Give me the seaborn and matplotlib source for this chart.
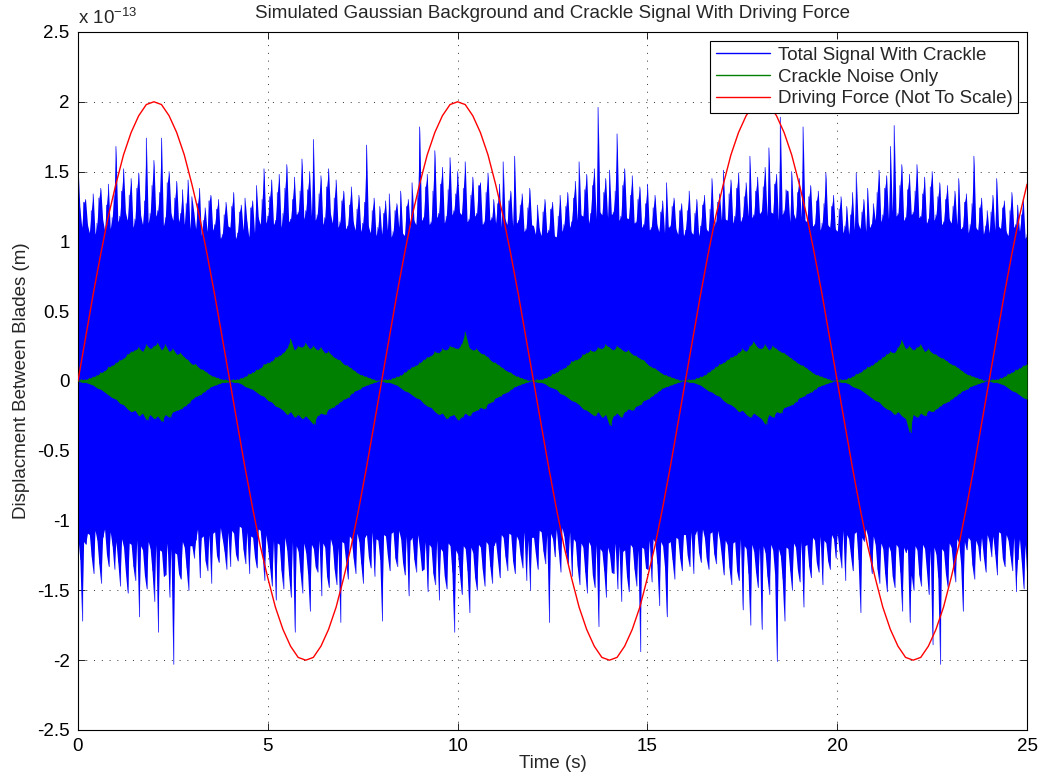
import numpy as np
import matplotlib
matplotlib.use("Agg")
import matplotlib.pyplot as plt
import seaborn as sns

# values are in units of 1e-13 m
# total signal: peak per 0.05 s slot, crackle: per 0.1 s slot, drive: per 0.2 s
T_START, T_END = 0.0, 25.0
BLUE_N, GREEN_N, DRIVE_N = 501, 251, 126

BLUE_UPPER = [
    1.55, 1.24, 1.10, 1.28, 1.30, 1.12, 1.06, 1.22, 1.34, 1.05, 1.13, 1.31, 1.38, 1.16, 1.08, 1.26, 1.41, 1.09, 1.17, 1.33,
    1.68, 1.14, 1.18, 1.36, 1.52, 1.21, 1.15, 1.33, 1.45, 1.10, 1.16, 1.38, 1.49, 1.19, 1.12, 1.29, 1.74, 1.13, 1.20, 1.40,
    1.58, 1.18, 1.22, 1.35, 1.74, 1.11, 1.17, 1.42, 1.50, 1.20, 1.15, 1.31, 1.43, 1.14, 1.20, 1.37, 1.12, 1.27, 1.44, 1.09,
    1.32, 1.21, 1.09, 1.27, 1.38, 1.04, 1.15, 1.24, 1.07, 1.29, 1.33, 1.08, 1.12, 1.23, 1.30, 1.02, 1.05, 1.19, 1.28, 1.11,
    1.10, 1.25, 1.35, 1.02, 1.06, 1.21, 1.26, 1.08, 1.31, 1.14, 1.03, 1.24, 1.29, 1.06, 1.40, 1.17, 1.12, 1.30, 1.52, 1.13,
    1.18, 1.32, 1.44, 1.12, 1.15, 1.35, 1.48, 1.10, 1.20, 1.38, 1.55, 1.14, 1.16, 1.30, 1.46, 1.19, 1.21, 1.36, 1.59, 1.16,
    1.22, 1.37, 1.50, 1.18, 1.73, 1.15, 1.19, 1.34, 1.47, 1.12, 1.17, 1.39, 1.52, 1.20, 1.13, 1.31, 1.44, 1.10, 1.14, 1.29,
    1.36, 1.09, 1.11, 1.26, 1.39, 1.14, 1.08, 1.23, 1.33, 1.07, 1.13, 1.28, 1.69, 1.11, 1.06, 1.22, 1.31, 1.04, 1.10, 1.25,
    1.05, 1.20, 1.29, 1.08, 1.34, 1.03, 1.07, 1.22, 1.27, 1.10, 1.36, 1.06, 1.04, 1.25, 1.30, 1.09, 1.42, 1.15, 1.12, 1.33,
    1.82, 1.15, 1.17, 1.39, 1.48, 1.12, 1.14, 1.36, 1.65, 1.17, 1.20, 1.41, 1.53, 1.13, 1.18, 1.37, 1.60, 1.19, 1.22, 1.34,
    1.50, 1.21, 1.19, 1.38, 1.57, 1.14, 1.16, 1.33, 1.46, 1.18, 1.20, 1.40, 1.42, 1.12, 1.14, 1.35, 1.49, 1.15, 1.17, 1.30,
    1.13, 1.27, 1.41, 1.10, 1.57, 1.16, 1.12, 1.29, 1.36, 1.11, 1.61, 1.13, 1.15, 1.26, 1.34, 1.07, 1.09, 1.24, 1.38, 1.12,
    1.11, 1.05, 1.26, 1.09, 1.04, 1.21, 1.30, 1.06, 1.08, 1.23, 1.28, 1.04, 1.03, 1.18, 1.33, 1.07, 1.12, 1.25, 1.35, 1.10,
    1.14, 1.31, 1.43, 1.15, 1.57, 1.19, 1.18, 1.37, 1.48, 1.13, 1.20, 1.40, 1.52, 1.16, 1.96, 1.21, 1.19, 1.35, 1.45, 1.17,
    1.51, 1.19, 1.21, 1.36, 1.77, 1.15, 1.18, 1.40, 1.52, 1.17, 1.16, 1.33, 1.47, 1.13, 1.14, 1.30, 1.39, 1.10, 1.12, 1.27,
    1.41, 1.08, 1.10, 1.24, 1.33, 1.12, 1.07, 1.21, 1.29, 1.06, 1.42, 1.10, 1.11, 1.25, 1.31, 1.09, 1.05, 1.22, 1.27, 1.04,
    1.08, 1.22, 1.36, 1.07, 1.05, 1.20, 1.30, 1.04, 1.11, 1.26, 1.33, 1.09, 1.07, 1.23, 1.45, 1.11, 1.14, 1.28, 1.34, 1.15,
    1.51, 1.16, 1.15, 1.34, 1.44, 1.13, 1.18, 1.38, 1.49, 1.14, 1.17, 1.32, 1.42, 1.18, 1.61, 1.17, 1.19, 1.36, 1.46, 1.20,
    1.21, 1.39, 1.53, 1.18, 1.67, 1.21, 1.20, 1.41, 1.48, 1.15, 1.89, 1.19, 1.22, 1.37, 1.36, 1.14, 1.50, 1.20, 1.16, 1.35,
    1.45, 1.17, 1.82, 1.15, 1.14, 1.32, 1.40, 1.11, 1.12, 1.29, 1.36, 1.08, 1.13, 1.27, 1.49, 1.12, 1.10, 1.25, 1.33, 1.09,
    1.07, 1.23, 1.32, 1.06, 1.11, 1.25, 1.05, 1.19, 1.35, 1.08, 1.49, 1.13, 1.09, 1.21, 1.30, 1.07, 1.38, 1.10, 1.12, 1.27,
    1.15, 1.35, 1.51, 1.14, 1.19, 1.38, 1.47, 1.16, 1.68, 1.21, 1.83, 1.18, 1.20, 1.40, 1.55, 1.15, 1.17, 1.37, 1.48, 1.19,
    1.21, 1.36, 1.55, 1.17, 1.18, 1.34, 1.46, 1.13, 1.16, 1.39, 1.50, 1.15, 1.19, 1.32, 1.42, 1.12, 1.14, 1.30, 1.40, 1.16,
    1.13, 1.25, 1.36, 1.12, 1.45, 1.09, 1.10, 1.28, 1.34, 1.06, 1.12, 1.27, 1.61, 1.10, 1.08, 1.24, 1.31, 1.05, 1.11, 1.22,
    1.06, 1.21, 1.33, 1.08, 1.45, 1.11, 1.09, 1.24, 1.29, 1.07, 1.04, 1.22, 1.35, 1.10, 1.12, 1.26, 1.07, 1.19, 1.30, 1.02,
    1.05,
]

BLUE_LOWER = [
    -1.12, -1.28, -1.72, -1.15, -1.17, -1.09, -1.10, -1.26, -1.38, -1.07, -1.14, -1.31, -1.45, -1.12, -1.06, -1.24, -1.33, -1.08, -1.18, -1.35,
    -1.15, -1.30, -1.47, -1.13, -1.19, -1.37, -1.52, -1.16, -1.17, -1.33, -1.43, -1.14, -1.69, -1.18, -1.21, -1.39, -1.49, -1.15, -1.20, -1.36,
    -1.58, -1.17, -1.80, -1.21, -1.22, -1.40, -1.39, -1.16, -1.55, -1.20, -2.03, -1.23, -1.24, -1.38, -1.42, -1.15, -1.19, -1.34, -1.50, -1.18,
    -1.18, -1.27, -1.14, -1.06, -1.41, -1.12, -1.11, -1.29, -1.36, -1.10, -1.45, -1.09, -1.08, -1.25, -1.30, -1.05, -1.13, -1.22, -1.35, -1.08,
    -1.33, -1.07, -1.09, -1.24, -1.29, -1.04, -1.05, -1.21, -1.31, -1.08, -1.38, -1.11, -1.12, -1.26, -1.34, -1.06, -1.07, -1.23, -1.43, -1.10,
    -1.20, -1.34, -1.47, -1.14, -1.57, -1.16, -1.17, -1.36, -1.49, -1.12, -1.21, -1.39, -1.55, -1.15, -1.80, -1.18, -1.22, -1.37, -1.52, -1.16,
    -1.23, -1.38, -1.65, -1.17, -1.20, -1.33, -1.37, -1.14, -1.54, -1.16, -1.19, -1.40, -1.48, -1.13, -1.18, -1.35, -1.46, -1.19, -1.73, -1.15,
    -1.16, -1.29, -1.42, -1.11, -1.13, -1.27, -1.38, -1.09, -1.15, -1.31, -1.45, -1.12, -1.10, -1.26, -1.34, -1.08, -1.40, -1.13, -1.14, -1.28,
    -1.72, -1.10, -1.11, -1.25, -1.36, -1.09, -1.08, -1.27, -1.33, -1.07, -1.13, -1.30, -1.39, -1.11, -1.54, -1.14, -1.12, -1.28, -1.37, -1.10,
    -1.21, -1.36, -1.35, -1.15, -1.51, -1.17, -1.19, -1.38, -1.46, -1.14, -1.57, -1.20, -1.22, -1.40, -1.49, -1.16, -1.18, -1.37, -1.80, -1.21,
    -1.24, -1.39, -1.53, -1.18, -1.20, -1.36, -1.66, -1.19, -1.23, -1.41, -1.50, -1.17, -1.19, -1.35, -1.47, -1.15, -1.17, -1.33, -1.45, -1.18,
    -1.15, -1.28, -1.41, -1.10, -1.12, -1.26, -1.36, -1.09, -1.10, -1.29, -1.38, -1.11, -1.14, -1.25, -1.34, -1.08, -1.43, -1.14, -1.50, -1.12,
    -1.12, -1.24, -1.35, -1.07, -1.08, -1.22, -1.31, -1.10, -1.73, -1.09, -1.13, -1.26, -1.06, -1.21, -1.37, -1.05, -1.11, -1.23, -1.32, -1.08,
    -1.40, -1.13, -1.15, -1.33, -1.46, -1.16, -1.19, -1.37, -1.52, -1.15, -1.18, -1.39, -1.48, -1.17, -1.76, -1.20, -1.22, -1.36, -1.55, -1.19,
    -1.24, -1.37, -1.38, -1.16, -1.49, -1.18, -1.58, -1.22, -1.21, -1.40, -1.51, -1.17, -1.19, -1.35, -1.47, -1.21, -1.94, -1.19, -1.20, -1.34,
    -1.35, -1.14, -1.44, -1.13, -1.16, -1.31, -1.61, -1.15, -1.18, -1.33, -1.69, -1.16, -1.15, -1.28, -1.42, -1.12, -1.13, -1.27, -1.36, -1.10,
    -1.10, -1.25, -1.33, -1.08, -1.38, -1.10, -1.07, -1.23, -1.30, -1.06, -1.12, -1.27, -1.35, -1.09, -1.08, -1.24, -1.31, -1.07, -1.14, -1.26,
    -1.39, -1.14, -1.17, -1.34, -1.46, -1.16, -1.15, -1.36, -1.43, -1.13, -1.64, -1.18, -1.20, -1.38, -1.75, -1.17, -1.22, -1.37, -1.48, -1.19,
    -1.78, -1.18, -1.23, -1.40, -1.53, -1.17, -1.21, -1.38, -2.01, -1.20, -1.25, -1.42, -1.72, -1.19, -1.20, -1.36, -1.50, -1.16, -1.19, -1.35,
    -1.44, -1.15, -1.62, -1.18, -1.17, -1.33, -1.41, -1.12, -1.14, -1.30, -1.37, -1.11, -1.46, -1.14, -1.16, -1.29, -1.35, -1.10, -1.13, -1.27,
    -1.09, -1.22, -1.34, -1.07, -1.43, -1.10, -1.13, -1.25, -1.36, -1.09, -1.08, -1.28, -1.66, -1.12, -1.15, -1.06, -1.11, -1.24, -1.38, -1.11,
    -1.17, -1.35, -1.45, -1.16, -1.20, -1.38, -1.51, -1.18, -1.22, -1.40, -1.48, -1.17, -1.19, -1.37, -1.65, -1.19, -1.23, -1.20, -1.73, -1.39,
    -1.50, -1.18, -1.21, -1.39, -1.47, -1.17, -1.20, -1.36, -1.53, -1.21, -1.89, -1.19, -1.24, -1.41, -2.03, -1.20, -1.22, -1.38, -1.48, -1.16,
    -1.19, -1.33, -1.44, -1.13, -1.16, -1.31, -1.65, -1.15, -1.21, -1.12, -1.14, -1.32, -1.42, -1.14, -1.18, -1.29, -1.12, -1.26, -1.37, -1.10,
    -1.15, -1.26, -1.11, -1.24, -1.39, -1.08, -1.09, -1.27, -1.33, -1.10, -1.14, -1.25, -1.36, -1.12, -1.51, -1.28, -1.13, -1.30, -1.49, -1.17,
    -1.45,
]

GREEN_UPPER = [
    0.00, 0.01, 0.01, 0.02, 0.03, 0.04, 0.06, 0.07, 0.10, 0.11,
    0.13, 0.15, 0.16, 0.19, 0.21, 0.22, 0.24, 0.21, 0.26, 0.23,
    0.25, 0.27, 0.22, 0.26, 0.21, 0.23, 0.19, 0.20, 0.17, 0.15,
    0.12, 0.12, 0.09, 0.08, 0.06, 0.04, 0.03, 0.02, 0.01, 0.01,
    0.00, 0.01, 0.01, 0.02, 0.03, 0.05, 0.06, 0.08, 0.09, 0.12,
    0.13, 0.14, 0.17, 0.18, 0.20, 0.23, 0.30, 0.22, 0.25, 0.24,
    0.27, 0.23, 0.25, 0.22, 0.24, 0.20, 0.21, 0.18, 0.16, 0.15,
    0.12, 0.11, 0.09, 0.07, 0.05, 0.04, 0.03, 0.02, 0.01, 0.00,
    0.00, 0.01, 0.01, 0.02, 0.03, 0.04, 0.06, 0.08, 0.10, 0.11,
    0.13, 0.15, 0.17, 0.18, 0.21, 0.20, 0.23, 0.22, 0.25, 0.24,
    0.23, 0.26, 0.35, 0.24, 0.22, 0.23, 0.20, 0.19, 0.17, 0.14,
    0.13, 0.11, 0.09, 0.07, 0.06, 0.04, 0.03, 0.02, 0.01, 0.00,
    0.00, 0.01, 0.01, 0.02, 0.03, 0.05, 0.06, 0.08, 0.09, 0.11,
    0.14, 0.15, 0.16, 0.19, 0.20, 0.22, 0.21, 0.24, 0.23, 0.26,
    0.24, 0.22, 0.25, 0.23, 0.21, 0.22, 0.19, 0.18, 0.16, 0.15,
    0.12, 0.10, 0.09, 0.07, 0.05, 0.04, 0.03, 0.02, 0.01, 0.00,
    0.00, 0.01, 0.01, 0.02, 0.03, 0.04, 0.06, 0.08, 0.10, 0.12,
    0.13, 0.15, 0.17, 0.18, 0.20, 0.23, 0.21, 0.25, 0.28, 0.24,
    0.23, 0.26, 0.22, 0.25, 0.23, 0.21, 0.20, 0.18, 0.16, 0.14,
    0.12, 0.11, 0.09, 0.07, 0.05, 0.04, 0.03, 0.02, 0.01, 0.00,
    0.00, 0.01, 0.01, 0.02, 0.03, 0.05, 0.06, 0.08, 0.10, 0.11,
    0.13, 0.15, 0.17, 0.19, 0.21, 0.20, 0.24, 0.29, 0.23, 0.25,
    0.22, 0.24, 0.26, 0.21, 0.23, 0.20, 0.19, 0.17, 0.16, 0.14,
    0.12, 0.11, 0.09, 0.07, 0.05, 0.04, 0.03, 0.02, 0.01, 0.00,
    0.00, 0.01, 0.01, 0.02, 0.03, 0.05, 0.06, 0.08, 0.09, 0.11,
    0.12,
]

GREEN_LOWER = [
    -0.00, -0.01, -0.01, -0.02, -0.03, -0.05, -0.06, -0.08, -0.10, -0.12,
    -0.13, -0.16, -0.17, -0.20, -0.22, -0.21, -0.25, -0.23, -0.28, -0.24,
    -0.27, -0.25, -0.29, -0.24, -0.26, -0.22, -0.21, -0.20, -0.18, -0.16,
    -0.13, -0.11, -0.10, -0.08, -0.06, -0.04, -0.03, -0.02, -0.01, -0.01,
    -0.00, -0.01, -0.01, -0.02, -0.04, -0.05, -0.06, -0.08, -0.10, -0.11,
    -0.14, -0.15, -0.18, -0.19, -0.21, -0.24, -0.22, -0.26, -0.24, -0.27,
    -0.25, -0.28, -0.31, -0.25, -0.23, -0.24, -0.20, -0.19, -0.17, -0.15,
    -0.13, -0.12, -0.09, -0.07, -0.06, -0.04, -0.03, -0.02, -0.01, -0.00,
    -0.00, -0.01, -0.01, -0.02, -0.03, -0.05, -0.07, -0.08, -0.10, -0.12,
    -0.13, -0.16, -0.18, -0.19, -0.22, -0.24, -0.23, -0.27, -0.25, -0.24,
    -0.28, -0.26, -0.23, -0.25, -0.22, -0.21, -0.19, -0.20, -0.16, -0.15,
    -0.12, -0.11, -0.09, -0.08, -0.06, -0.04, -0.03, -0.02, -0.01, -0.00,
    -0.00, -0.01, -0.01, -0.02, -0.04, -0.05, -0.06, -0.09, -0.10, -0.12,
    -0.14, -0.15, -0.17, -0.20, -0.21, -0.23, -0.25, -0.22, -0.26, -0.24,
    -0.32, -0.25, -0.23, -0.26, -0.22, -0.20, -0.21, -0.18, -0.17, -0.14,
    -0.13, -0.11, -0.09, -0.07, -0.05, -0.04, -0.03, -0.02, -0.01, -0.00,
    -0.00, -0.01, -0.01, -0.02, -0.03, -0.05, -0.07, -0.08, -0.10, -0.11,
    -0.14, -0.16, -0.17, -0.19, -0.22, -0.21, -0.24, -0.26, -0.23, -0.25,
    -0.27, -0.31, -0.24, -0.26, -0.22, -0.23, -0.19, -0.18, -0.17, -0.15,
    -0.12, -0.11, -0.09, -0.08, -0.06, -0.04, -0.03, -0.02, -0.01, -0.00,
    -0.00, -0.01, -0.01, -0.02, -0.04, -0.05, -0.06, -0.08, -0.10, -0.12,
    -0.14, -0.15, -0.18, -0.20, -0.21, -0.24, -0.22, -0.25, -0.27, -0.37,
    -0.24, -0.26, -0.23, -0.25, -0.21, -0.22, -0.20, -0.18, -0.16, -0.15,
    -0.13, -0.11, -0.09, -0.07, -0.06, -0.04, -0.03, -0.02, -0.01, -0.00,
    -0.00, -0.01, -0.01, -0.02, -0.03, -0.05, -0.07, -0.08, -0.10, -0.12,
    -0.13,
]

# driving force (not to scale)
DRIVE = [
    0.00, 0.31, 0.62, 0.91, 1.18, 1.41, 1.62, 1.78, 1.90, 1.98,
    2.00, 1.98, 1.90, 1.78, 1.62, 1.41, 1.18, 0.91, 0.62, 0.31,
    0.00, -0.31, -0.62, -0.91, -1.18, -1.41, -1.62, -1.78, -1.90, -1.98,
    -2.00, -1.98, -1.90, -1.78, -1.62, -1.41, -1.18, -0.91, -0.62, -0.31,
    0.00, 0.31, 0.62, 0.91, 1.18, 1.41, 1.62, 1.78, 1.90, 1.98,
    2.00, 1.98, 1.90, 1.78, 1.62, 1.41, 1.18, 0.91, 0.62, 0.31,
    0.00, -0.31, -0.62, -0.91, -1.18, -1.41, -1.62, -1.78, -1.90, -1.98,
    -2.00, -1.98, -1.90, -1.78, -1.62, -1.41, -1.18, -0.91, -0.62, -0.31,
    0.00, 0.31, 0.62, 0.91, 1.18, 1.41, 1.62, 1.78, 1.90, 1.98,
    2.00, 1.98, 1.90, 1.78, 1.62, 1.41, 1.18, 0.91, 0.62, 0.31,
    0.00, -0.31, -0.62, -0.91, -1.18, -1.41, -1.62, -1.78, -1.90, -1.98,
    -2.00, -1.98, -1.90, -1.78, -1.62, -1.41, -1.18, -0.91, -0.62, -0.31,
    0.00, 0.31, 0.62, 0.91, 1.18, 1.41,
]

X_TICKS = [0, 5, 10, 15, 20, 25]
Y_TICKS = [-2.5, -2, -1.5, -1, -0.5, 0, 0.5, 1, 1.5, 2, 2.5]
LABELS = ["Total Signal With Crackle", "Crackle Noise Only", "Driving Force (Not To Scale)"]
COLORS = ["#0000ff", "#008000", "#ff0000"]
FS = 13.5


def zigzag(t, upper, lower, half_step):
    # alternate between upper and lower peaks so the trace looks like dense noise
    x = np.empty(2 * len(t))
    y = np.empty(2 * len(t))
    x[0::2], x[1::2] = t, t + half_step
    y[0::2], y[1::2] = upper, lower
    return x, y


sns.set_style("ticks")
plt.rcParams["font.family"] = ["Liberation Sans", "DejaVu Sans"]
plt.rcParams["axes.unicode_minus"] = False
plt.rcParams["font.size"] = FS

fig = plt.figure(figsize=(10.41, 7.76), dpi=100)
ax = fig.add_axes([0.0749, 0.0593, 0.9117, 0.8995])

t_blue = np.linspace(T_START, T_END, BLUE_N)
t_green = np.linspace(T_START, T_END, GREEN_N)
t_drive = np.linspace(T_START, T_END, DRIVE_N)

# total signal
ax.fill_between(t_blue, BLUE_LOWER, BLUE_UPPER, color=COLORS[0], lw=0, zorder=1)
bx, by = zigzag(t_blue, BLUE_UPPER, BLUE_LOWER, 0.025)
sns.lineplot(x=bx, y=by, sort=False, estimator=None, color=COLORS[0],
             lw=0.5, label=LABELS[0], ax=ax, zorder=2)

# crackle only
ax.fill_between(t_green, GREEN_LOWER, GREEN_UPPER, color=COLORS[1], lw=0, zorder=3)
gx, gy = zigzag(t_green, GREEN_UPPER, GREEN_LOWER, 0.05)
sns.lineplot(x=gx, y=gy, sort=False, estimator=None, color=COLORS[1],
             lw=0.6, label=LABELS[1], ax=ax, zorder=4)

# driving force
sns.lineplot(x=t_drive, y=DRIVE, sort=False, estimator=None, color=COLORS[2],
             lw=1.0, label=LABELS[2], ax=ax, zorder=5)

ax.set_xlim(0, 25)
ax.set_ylim(-2.5, 2.5)
ax.set_xticks(X_TICKS)
ax.set_yticks(Y_TICKS)
ax.set_yticklabels([f"{v:g}" for v in Y_TICKS])
ax.tick_params(direction="in", length=5, width=0.6, top=True, right=True,
               labelsize=FS, colors="black", pad=6)
ax.grid(True, linestyle=(0, (1, 7)), color="#333333", linewidth=0.7)
ax.set_axisbelow(True)
for sp in ax.spines.values():
    sp.set_visible(True)
    sp.set_color("black")
    sp.set_linewidth(0.8)

ax.set_title("Simulated Gaussian Background and Crackle Signal With Driving Force",
             fontsize=FS, pad=10)
ax.set_xlabel("Time (s)", fontsize=FS, labelpad=0)
ax.set_ylabel("Displacment Between Blades (m)", fontsize=FS, labelpad=5)
ax.text(0.0, 1.006, r"x 10$^{\mathregular{-13}}$", transform=ax.transAxes,
        ha="left", va="bottom", fontsize=FS)

leg = ax.legend(loc="upper right", bbox_to_anchor=(0.9905, 0.987), borderaxespad=0,
                fancybox=False, framealpha=1, edgecolor="black", fontsize=FS,
                handlelength=2.9, handletextpad=0.4, labelspacing=0.25,
                borderpad=0.3)
leg.get_frame().set_linewidth(0.8)
leg.set_zorder(10)
for line in leg.get_lines():
    line.set_linewidth(1.0)

fig.savefig("out.png", dpi=100)
